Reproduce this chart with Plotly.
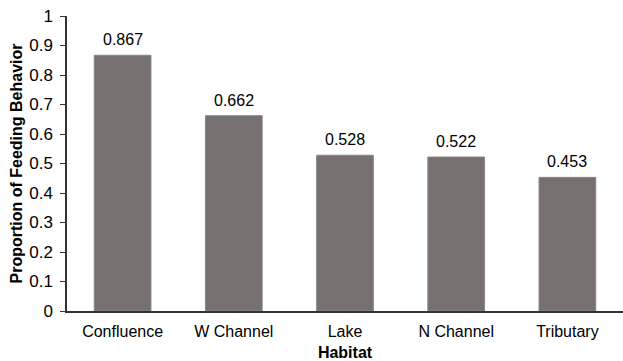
import plotly.graph_objects as go

habitats = ["Confluence", "W Channel", "Lake", "N Channel", "Tributary"]
proportions = [0.867, 0.662, 0.528, 0.522, 0.453]
y_ticks = [0, 0.1, 0.2, 0.3, 0.4, 0.5, 0.6, 0.7, 0.8, 0.9, 1.0]
y_tick_labels = ["0", "0.1", "0.2", "0.3", "0.4", "0.5", "0.6", "0.7", "0.8", "0.9", "1"]

font = "Liberation Sans, Arial, sans-serif"

fig = go.Figure(go.Bar(
    x=habitats, y=proportions,
    marker=dict(color="#767170", line=dict(color="#8a8584", width=1)),
))

for h, v in zip(habitats, proportions):
    fig.add_annotation(x=h, y=v, text=f"{v:.3f}", showarrow=False,
                       yanchor="bottom", yshift=5,
                       font=dict(family=font, size=16, color="#000"))

fig.update_layout(
    width=623, height=361,
    margin=dict(l=67, r=0, t=16, b=50),
    paper_bgcolor="white", plot_bgcolor="white",
    bargap=0.49, showlegend=False,
    font=dict(family=font, size=16, color="#000"),
    xaxis=dict(
        showline=True, linecolor="#333", linewidth=1.5,
        ticks="outside", ticklen=5, tickcolor="rgba(0,0,0,0)", showgrid=False,
        title=dict(text="<b>Habitat</b>", font=dict(size=16), standoff=9),
        tickfont=dict(size=16),
    ),
    yaxis=dict(
        range=[0, 1], tickvals=y_ticks, ticktext=y_tick_labels,
        showline=True, linecolor="#333", linewidth=1.5,
        ticks="outside", ticklen=5, tickcolor="#333",
        ticklabelstandoff=4,
        showgrid=False, zeroline=False,
        title=dict(text="<b>Proportion of Feeding Behavior</b>", font=dict(size=16), standoff=3),
        tickfont=dict(size=17),
    ),
)

fig.write_html("out.html")
